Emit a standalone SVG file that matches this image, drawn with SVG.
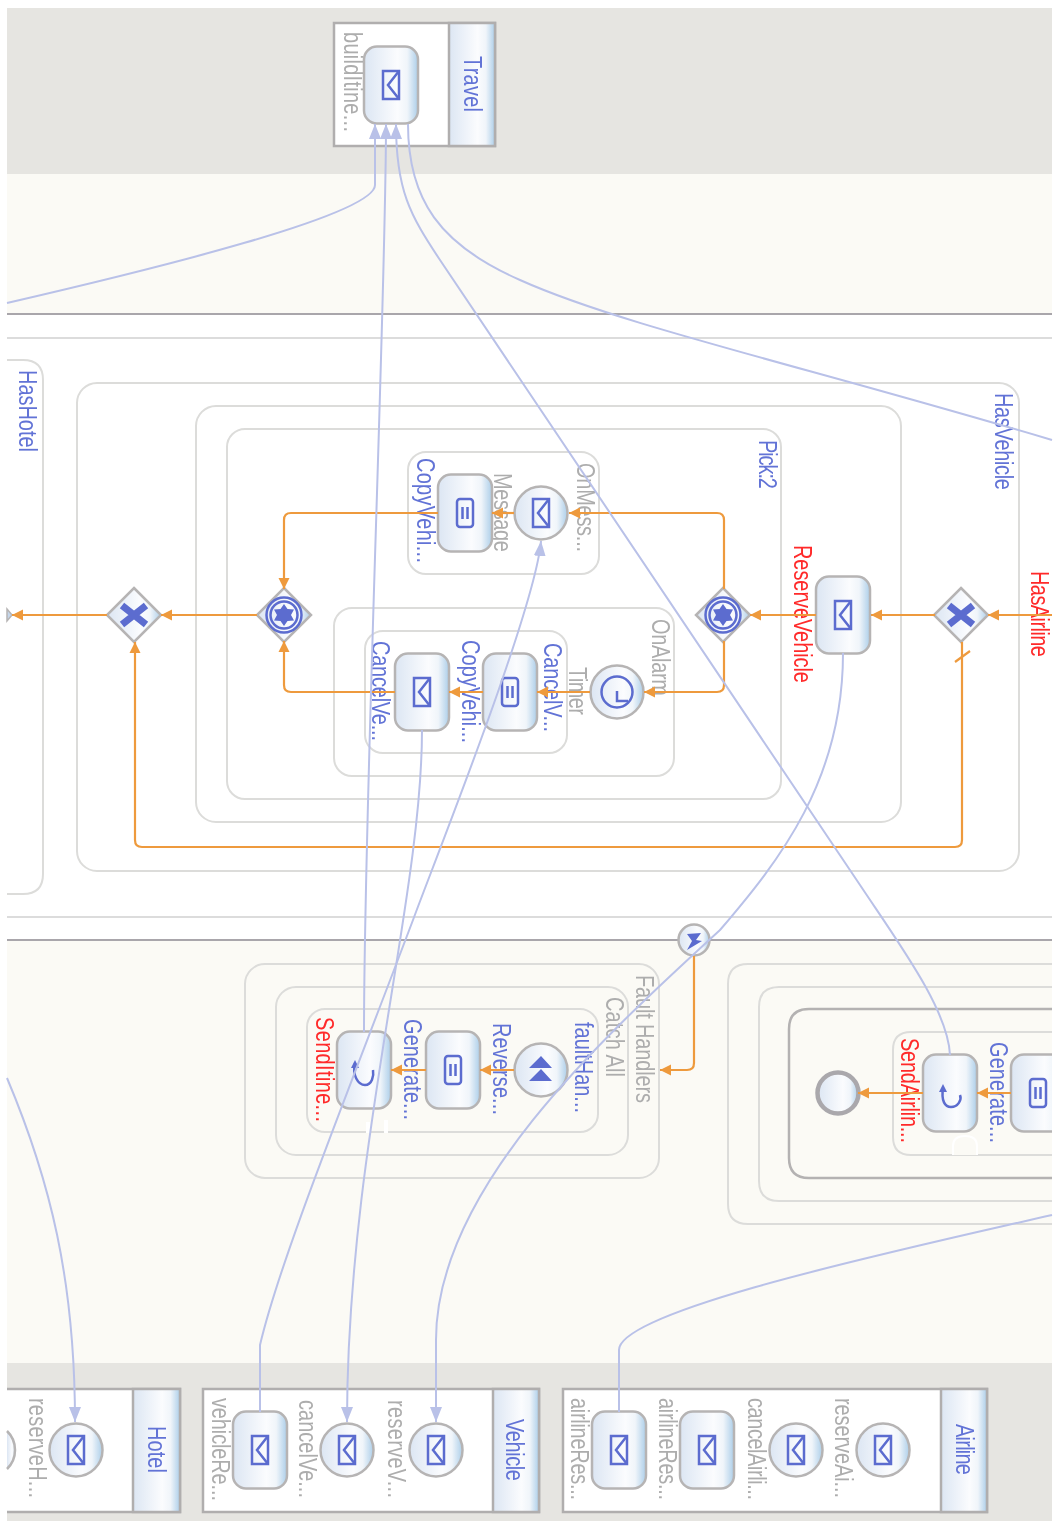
<svg xmlns="http://www.w3.org/2000/svg" width="1063" height="1521" viewBox="0 0 1063 1521">
<style>
text{font-family:"Liberation Sans",Arial,sans-serif;font-size:20px}
.b{fill:#6273d6}.g{fill:#adadad}.r{fill:#ff2a2a}
.c{fill:none;stroke:#dcdcda;stroke-width:2}
.d{fill:none;stroke:#b4b2b2;stroke-width:2.500}
.box{fill:#fff;stroke:#b0aeae;stroke-width:2.500}
.hd{fill:url(#gr);stroke:#b0aeae;stroke-width:2.500}
.sh{fill:url(#gr);stroke:#b6b4b4;stroke-width:2.500}
.i{fill:none;stroke:#5b6ccf;stroke-width:2.500}
.f{fill:#5b6ccf}
.o{fill:none;stroke:#ee9a3c;stroke-width:2.200;stroke-linejoin:round}
.oa{marker-end:url(#ma)}
.l{fill:none;stroke:#b9c1e8;stroke-width:2}
.la{marker-end:url(#mb)}
</style>
<defs>
<filter id="soft" x="0" y="0" width="100%" height="100%" filterUnits="objectBoundingBox"><feGaussianBlur stdDeviation="0.450"/></filter>
<linearGradient id="gr" x1="0" x2="1" y1="0" y2="0"><stop offset="0" stop-color="#dce6f3"/><stop offset=".62" stop-color="#fbfcfe"/><stop offset=".8" stop-color="#f0f5fa"/><stop offset="1" stop-color="#accee9"/></linearGradient>
<marker id="ma" markerUnits="userSpaceOnUse" markerWidth="12" markerHeight="12" refX="11" refY="6" orient="auto"><path d="M0 0.500L11 6L0 11.500Z" fill="#ee9a3c"/></marker>
<marker id="mb" markerUnits="userSpaceOnUse" markerWidth="16" markerHeight="14" refX="15" refY="7" orient="auto"><path d="M0 1L15 7L0 13Z" fill="#b9c1e8"/></marker>
<g id="task"><rect class="sh" x="-27" y="-38.500" width="54" height="77" rx="13"/></g>
<g id="ev"><circle class="sh" r="26.500"/></g>
<g id="gw"><path class="sh" d="M0 -27L27 0L0 27L-27 0Z"/></g>
<g id="env"><rect class="i" x="-8" y="-14" width="16" height="28"/><path class="i" d="M8 -14L-3 0L8 14"/></g>
<g id="doc"><rect class="i" x="-8" y="-14" width="16" height="28" rx="3"/><path class="i" d="M-2.500 -6V6M2.500 -6V6" stroke-width="2"/></g>
<g id="x"><path d="M-12 -9.500L12 9.500M-12 9.500L12 -9.500" fill="none" stroke="#5b6ccf" stroke-width="7"/></g>
<g id="pk"><circle class="i" r="17.500" stroke-width="2.200"/><circle class="i" r="13.500" stroke-width="2.200"/><path class="f" d="M0 -11L3.500 -6L10 -5.500L7 0L10 5.500L3.500 6L0 11L-3.500 6L-10 5.500L-7 0L-10 -5.500L-3.500 -6Z"/></g>
</defs>
<rect width="1063" height="1521" fill="#fff"/>
<g filter="url(#soft)">
<rect width="1063" height="1521" fill="#fff"/>
<g id="bands">
<rect x="7" y="8" width="1045" height="166" fill="#e6e5e1"/>
<rect x="7" y="174" width="1045" height="140" fill="#fbfaf5"/>
<rect x="7" y="940" width="1045" height="423" fill="#fbfaf5"/>
<rect x="7" y="1363" width="1045" height="158" fill="#e6e5e1"/>
<path d="M7 314H1052M7 940H1052" stroke="#a9a6ab" stroke-width="2" fill="none"/>
<path d="M7 338H1052M7 917H1052" stroke="#dcdcdc" stroke-width="2" fill="none"/>
</g>
<g id="scopes">
<path class="c" d="M7 360H23Q43 360 43 380V874Q43 894 23 894H7"/>
<rect class="c" x="77" y="383" width="942" height="488" rx="20"/>
<rect class="c" x="196" y="406" width="705" height="416" rx="20"/>
<rect class="c" x="227" y="429" width="554" height="370" rx="18"/>
<rect class="c" x="408" y="452" width="191" height="122" rx="18"/>
<rect class="c" x="334" y="608" width="340" height="168" rx="18"/>
<rect class="c" x="365" y="631" width="202" height="122" rx="18"/>
<rect class="c" x="245" y="964" width="414" height="214" rx="20"/>
<rect class="c" x="276" y="987" width="352" height="168" rx="20"/>
<rect class="c" x="307" y="1009" width="291" height="123" rx="18"/>
<path class="c" d="M1052 964H748Q728 964 728 984V1204Q728 1224 748 1224H1052"/>
<path class="c" d="M1052 987H779Q759 987 759 1007V1181Q759 1201 779 1201H1052"/>
<path class="d" d="M1052 1009H809Q789 1009 789 1029V1158Q789 1178 809 1178H1052"/>
<path class="c" d="M1052 1032H911Q893 1032 893 1050V1137Q893 1155 911 1155H1052"/>
<path d="M953 1155V1146Q953 1136 965 1136Q977 1136 977 1146V1155" fill="#fbfaf5" stroke="#fff" stroke-width="2"/>
<path d="M368 1133V1122M386 1133V1120" fill="none" stroke="#fff" stroke-width="4"/>
</g>
<g id="pool-travel"><rect class="box" x="334" y="23" width="161" height="123"/><rect class="hd" x="449" y="23" width="46" height="123"/><text class="b" textLength="56" transform="translate(464,56) rotate(90) scale(1,1.250)">Travel</text></g>
<g id="node-builditine"><use href="#task" x="391" y="85"/><use href="#env" x="391" y="85"/><text class="g" textLength="100" transform="translate(344,32) rotate(90) scale(1,1.250)">buildItine...</text></g>
<g id="label-hashotel"><text class="b" textLength="82" transform="translate(19,370) rotate(90) scale(1,1.250)">HasHotel</text></g>
<g id="label-hasvehicle"><text class="b" textLength="97" transform="translate(995,393) rotate(90) scale(1,1.250)">HasVehicle</text></g>
<g id="label-pick"><text class="b" textLength="49" transform="translate(759,440) rotate(90) scale(1,1.250)">Pick:2</text></g>
<g id="label-hasairline"><text class="r" textLength="86" transform="translate(1031,571) rotate(90) scale(1,1.250)">HasAirline</text></g>
<g id="gw-airline"><use href="#gw" x="961" y="615"/><use href="#x" x="961" y="615"/></g>
<g id="node-reservevehicle"><use href="#task" x="843" y="615"/><use href="#env" x="843" y="615"/><text class="r" textLength="138" transform="translate(794,545) rotate(90) scale(1,1.250)">ReserveVehicle</text></g>
<g id="gw-pick"><use href="#gw" x="723" y="615"/><use href="#pk" x="723" y="615"/></g>
<g id="gw-pick-end"><use href="#gw" x="284" y="615"/><use href="#pk" x="284" y="615"/></g>
<g id="gw-merge"><use href="#gw" x="134" y="615"/><use href="#x" x="134" y="615"/></g>
<path id="gw-cut" d="M7 609L12 615L7 621Z" fill="#c5d6ea" stroke="#b6b4b4" stroke-width="1.500"/>
<g id="node-onmess"><use href="#ev" x="541" y="513"/><use href="#env" x="541" y="513"/><text class="g" textLength="89" transform="translate(577,463) rotate(90) scale(1,1.250)">OnMess...</text><text class="g" textLength="79" transform="translate(494,473) rotate(90) scale(1,1.250)">Message</text></g>
<g id="node-copyvehi1"><use href="#task" x="465" y="513"/><use href="#doc" x="465" y="513"/><text class="b" textLength="105" transform="translate(417,458) rotate(90) scale(1,1.250)">CopyVehi...</text></g>
<g id="node-timer"><use href="#ev" x="617" y="692"/><circle class="i" cx="617" cy="692" r="15.500"/><path class="i" d="M617 691V701H628"/><text class="g" textLength="77" transform="translate(652,619) rotate(90) scale(1,1.250)">OnAlarm</text><text class="g" textLength="48" transform="translate(569,667) rotate(90) scale(1,1.250)">Timer</text></g>
<g id="node-copyvehi2"><use href="#task" x="510" y="692"/><use href="#doc" x="510" y="692"/><text class="b" textLength="89" transform="translate(544,643) rotate(90) scale(1,1.250)">CancelV...</text></g>
<g id="node-cancelve"><use href="#task" x="422" y="692"/><use href="#env" x="422" y="692"/><text class="b" textLength="103" transform="translate(462,640) rotate(90) scale(1,1.250)">CopyVehi...</text><text class="b" textLength="100" transform="translate(372,641) rotate(90) scale(1,1.250)">CancelVe...</text></g>
<g id="node-boundary"><circle class="sh" cx="694" cy="940" r="15.500"/><path class="f" d="M687 934L701 933L696 940L702 941L687 950L692 941Z"/></g>
<g id="node-faulthan"><use href="#ev" x="541" y="1070"/><path class="f" d="M529 1068L541 1056L552 1068ZM529 1081L541 1069L552 1081Z"/><text class="g" textLength="128" transform="translate(636,975) rotate(90) scale(1,1.250)">Fault Handlers</text><text class="g" textLength="80" transform="translate(606,997) rotate(90) scale(1,1.250)">Catch All</text><text class="b" textLength="91" transform="translate(575,1022) rotate(90) scale(1,1.250)">faultHan...</text></g>
<g id="node-reverse"><use href="#task" x="453" y="1070"/><use href="#doc" x="453" y="1070"/><text class="b" textLength="92" transform="translate(493,1023) rotate(90) scale(1,1.250)">Reverse...</text></g>
<g id="node-senditine"><use href="#task" x="364" y="1070"/><path class="i" d="M355 1063C352 1075 358 1085 365 1085C372 1085 374 1076 373 1070" stroke-width="2"/><path class="f" d="M355 1060L359 1068H351Z"/><text class="b" textLength="101" transform="translate(404,1019) rotate(90) scale(1,1.250)">Generate...</text><text class="r" textLength="105" transform="translate(316,1017) rotate(90) scale(1,1.250)">SendItine...</text></g>
<g id="node-end"><circle cx="838" cy="1093" r="20.500" fill="url(#gr)" stroke="#aaa8ac" stroke-width="4.500"/></g>
<g id="node-sendairlin"><use href="#task" x="950" y="1093"/><path class="i" d="M943 1088C941 1101 945 1107 951 1107C958 1107 962 1100 960 1095" stroke-width="2"/><path class="f" d="M943 1084L947 1092H939Z"/><text class="r" textLength="105" transform="translate(901,1038) rotate(90) scale(1,1.250)">SendAirlin...</text></g>
<g id="node-generate"><use href="#task" x="1038" y="1093"/><use href="#doc" x="1038" y="1093"/><text class="b" textLength="101" transform="translate(990,1042) rotate(90) scale(1,1.250)">Generate...</text></g>
<rect x="1052" y="960" width="11" height="300" fill="#fff"/>
<g id="pool-hotel"><path class="box" d="M7 1389H180V1512H7"/><rect class="hd" x="133" y="1389" width="47" height="123"/><text class="b" textLength="47" transform="translate(148,1426) rotate(90) scale(1,1.250)">Hotel</text></g>
<g id="node-reservehotel"><use href="#ev" x="76" y="1450"/><use href="#env" x="76" y="1450"/><text class="g" textLength="100" transform="translate(29,1398) rotate(90) scale(1,1.250)">reserveH...</text></g>
<path id="node-hotel-cut" d="M7 1431A26.500 26.500 0 0 1 7 1469" fill="url(#gr)" stroke="#b6b4b4" stroke-width="2.500"/>
<g id="pool-vehicle"><rect class="box" x="203" y="1389" width="336" height="123"/><rect class="hd" x="493" y="1389" width="46" height="123"/><text class="b" textLength="62" transform="translate(506,1419) rotate(90) scale(1,1.250)">Vehicle</text></g>
<g id="node-vehiclere"><use href="#task" x="260" y="1450"/><use href="#env" x="260" y="1450"/><text class="g" textLength="103" transform="translate(212,1398) rotate(90) scale(1,1.250)">vehicleRe...</text></g>
<g id="node-cancelvehicle"><use href="#ev" x="347" y="1450"/><use href="#env" x="347" y="1450"/><text class="g" textLength="98" transform="translate(299,1400) rotate(90) scale(1,1.250)">cancelVe...</text></g>
<g id="node-reservevehiclep"><use href="#ev" x="436" y="1450"/><use href="#env" x="436" y="1450"/><text class="g" textLength="98" transform="translate(388,1400) rotate(90) scale(1,1.250)">reserveV...</text></g>
<g id="pool-airline"><rect class="box" x="563" y="1389" width="424" height="123"/><rect class="hd" x="941" y="1389" width="46" height="123"/><text class="b" textLength="51" transform="translate(956,1424) rotate(90) scale(1,1.250)">Airline</text></g>
<g id="node-airlineres1"><use href="#task" x="619" y="1450"/><use href="#env" x="619" y="1450"/><text class="g" textLength="102" transform="translate(571,1398) rotate(90) scale(1,1.250)">airlineRes...</text></g>
<g id="node-airlineres2"><use href="#task" x="707" y="1450"/><use href="#env" x="707" y="1450"/><text class="g" textLength="102" transform="translate(659,1398) rotate(90) scale(1,1.250)">airlineRes...</text></g>
<g id="node-cancelairli"><use href="#ev" x="796" y="1450"/><use href="#env" x="796" y="1450"/><text class="g" textLength="102" transform="translate(748,1398) rotate(90) scale(1,1.250)">cancelAirli...</text></g>
<g id="node-reserveai"><use href="#ev" x="883" y="1450"/><use href="#env" x="883" y="1450"/><text class="g" textLength="100" transform="translate(835,1398) rotate(90) scale(1,1.250)">reserveAi...</text></g>
<g id="connectors">
<path class="o oa" d="M1052 615H988"/>
<path class="o oa" d="M935 615H871"/>
<path class="o oa" d="M816 615H750"/>
<path class="o oa" d="M724 589V520Q724 513 717 513H569"/>
<path class="o oa" d="M724 641V685Q724 692 717 692H644"/>
<path class="o oa" d="M514 513H492"/>
<path class="o oa" d="M438 513H291Q284 513 284 520V589"/>
<path class="o oa" d="M590 692H537"/>
<path class="o oa" d="M483 692H449"/>
<path class="o oa" d="M395 692H291Q284 692 284 685V641"/>
<path class="o oa" d="M257 615H161"/>
<path class="o oa" d="M107 615H12"/>
<path class="o oa" d="M962 642V840Q962 847 955 847H142Q135 847 135 840V642"/>
<path class="o" d="M955 662L970 651"/>
<path class="o oa" d="M694 956V1063Q694 1070 687 1070H660"/>
<path class="o oa" d="M514 1070H480"/>
<path class="o oa" d="M426 1070H391"/>
<path class="o oa" d="M1011 1093H977"/>
<path class="o oa" d="M923 1093H858"/>
<path class="l la" d="M7 303C150 270 375 215 375 185V124"/>
<path class="l la" d="M364 1032C364 800 386 300 386 124"/>
<path class="l la" d="M950 1055C948 1010 900 945 860 885L440 260C410 215 396 190 396 124"/>
<path class="l" d="M1052 440C800 365 620 325 520 280C440 245 408 200 408 124"/>
<path class="l la" d="M7 1078C50 1180 75 1280 75 1422"/>
<path class="l la" d="M260 1412V1345C280 1260 345 1100 413 920C435 860 535 610 541 541"/>
<path class="l la" d="M422 730C422 900 347 1150 347 1422"/>
<path class="l la" d="M843 653C843 780 780 860 720 930C600 1040 436 1190 436 1340V1422"/>
<path class="l" d="M619 1412V1350C619 1310 900 1250 1052 1215"/>
</g>
</g>
</svg>
